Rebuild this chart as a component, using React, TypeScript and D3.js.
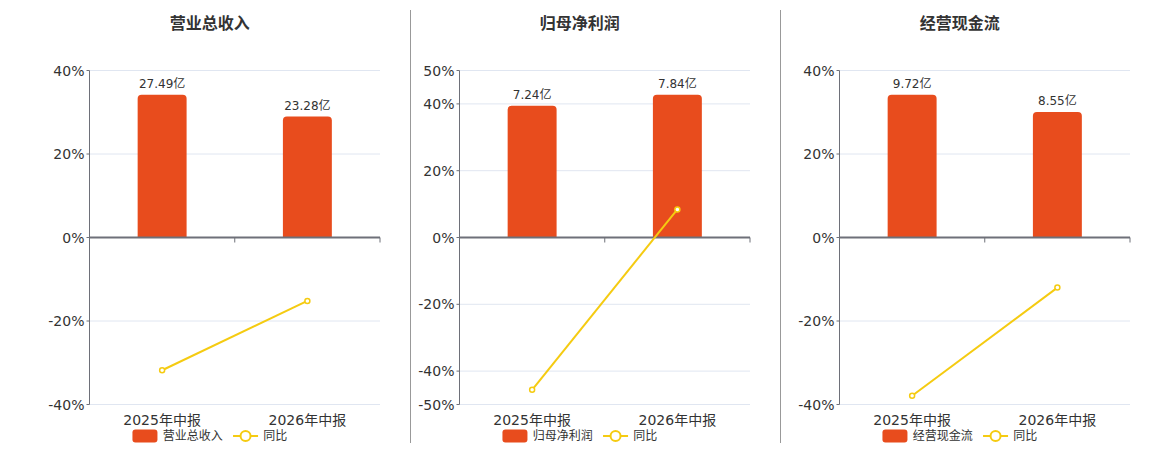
import * as d3 from "d3";

// 报告期
const categories = ["2025年中报", "2026年中报"];
const titles = ["营业总收入", "归母净利润", "经营现金流"];

// 柱子数值(亿)
const revenue = [27.49, 23.28];
const netProfit = [7.24, 7.84];
const cashFlow = [9.72, 8.55];

// 同比(%)
const revenueYoy = [-31.8, -15.2];
const netProfitYoy = [-45.6, 8.4];
const cashFlowYoy = [-37.9, -12.0];

// 左轴刻度
const ticksA = [40, 20, 0, -20, -40];
const ticksB = [50, 40, 20, 0, -20, -40, -50];

const BAR = "#E84C1D";
const LINE = "#F5CB11";
const FONT = "'DejaVu Sans', 'Noto Sans CJK SC', sans-serif";

const panels = [
  { title: titles[0], bars: revenue, yoy: revenueYoy, ticks: ticksA, left: 89.5 },
  { title: titles[1], bars: netProfit, yoy: netProfitYoy, ticks: ticksB, left: 459.5 },
  { title: titles[2], bars: cashFlow, yoy: cashFlowYoy, ticks: ticksA, left: 839.5 },
];

const dividers = [410.5, 780.5];

const plotW = 290.5;
const top = 70.5;
const bottom = 404.5;

function topRounded(x: number, y: number, w: number, h: number, r: number) {
  const rr = Math.min(r, h, w / 2);
  return `M${x},${y + h}V${y + rr}Q${x},${y} ${x + rr},${y}H${x + w - rr}Q${x + w},${y} ${x + w},${y + rr}V${y + h}Z`;
}

function Panel({ p }: { p: (typeof panels)[0] }) {
  const ext = d3.max(p.ticks.map(Math.abs)) as number;
  const y = d3.scaleLinear().domain([-ext, ext]).range([bottom, top]);
  const x = d3.scaleBand().domain(categories).range([p.left, p.left + plotW]);
  const zero = y(0);
  const maxBar = d3.max(p.bars) as number;
  const yb = d3.scaleLinear().domain([0, maxBar * 1.17]).range([zero, top]);
  const bw = x.bandwidth() * 0.337;
  const cx = (c: string) => (x(c) as number) + x.bandwidth() / 2;
  const line = d3
    .line<number>()
    .x((_, i) => cx(categories[i]))
    .y((d) => y(d));
  const mid = p.left + plotW / 2 - 25;

  return (
    <g>
      <text x={mid} y={29} textAnchor="middle" fontSize={16} fontWeight="bold" fill="#333">
        {p.title}
      </text>
      {p.ticks.map((t) => (
        <g key={t}>
          {t !== 0 && (
            <line x1={p.left} x2={p.left + plotW} y1={y(t)} y2={y(t)} stroke="#E0E6F1" />
          )}
          <line x1={p.left - 3} x2={p.left} y1={y(t)} y2={y(t)} stroke="#6E7079" />
          <text
            x={p.left - 5}
            y={y(t)}
            textAnchor="end"
            dominantBaseline="central"
            fontSize={14}
            fill="#333"
          >
            {t}%
          </text>
        </g>
      ))}
      <line x1={p.left} x2={p.left} y1={top} y2={bottom} stroke="#6E7079" />
      {p.bars.map((v, i) => {
        const c = categories[i];
        const yt = yb(v);
        return (
          <g key={c}>
            <path d={topRounded(cx(c) - bw / 2, yt, bw, zero - yt, 4)} fill={BAR} />
            <text x={cx(c)} y={yt - 7} textAnchor="middle" fontSize={12} fill="#333">
              {v.toFixed(2)}亿
            </text>
          </g>
        );
      })}
      <line x1={p.left} x2={p.left + plotW} y1={zero} y2={zero} stroke="#6E7079" strokeWidth={2} />
      {[0, 1, 2].map((k) => {
        const tx = p.left + x.step() * k;
        return <line key={k} x1={tx} x2={tx} y1={zero} y2={zero + 5} stroke="#6E7079" />;
      })}
      <path d={line(p.yoy) as string} fill="none" stroke={LINE} strokeWidth={2} />
      {p.yoy.map((v, i) => (
        <circle
          key={i}
          cx={cx(categories[i])}
          cy={y(v)}
          r={2.5}
          fill="#fff"
          stroke={LINE}
          strokeWidth={1.5}
        />
      ))}
      {categories.map((c) => (
        <text key={c} x={cx(c)} y={425} textAnchor="middle" fontSize={14} fill="#333">
          {c}
        </text>
      ))}
      <g transform={`translate(${mid},436)`}>
        <rect x={-77.3} y={-6.5} width={25} height={13} rx={3} fill={BAR} />
        <text x={-47} y={0} dominantBaseline="central" fontSize={12} fill="#333">
          {p.title}
        </text>
        <line x1={23.3} x2={48.3} y1={0} y2={0} stroke={LINE} strokeWidth={2} />
        <circle cx={35.8} cy={0} r={5} fill="#fff" stroke={LINE} strokeWidth={2} />
        <text x={53.5} y={0} dominantBaseline="central" fontSize={12} fill="#333">
          同比
        </text>
      </g>
    </g>
  );
}

export default function App() {
  return (
    <svg
      width={1160}
      height={450}
      style={{ position: "absolute", left: 0, top: 0, background: "#fff" }}
      fontFamily={FONT}
    >
      {dividers.map((d) => (
        <line key={d} x1={d} x2={d} y1={10} y2={443} stroke="#999" />
      ))}
      {panels.map((p) => (
        <Panel key={p.title} p={p} />
      ))}
    </svg>
  );
}
